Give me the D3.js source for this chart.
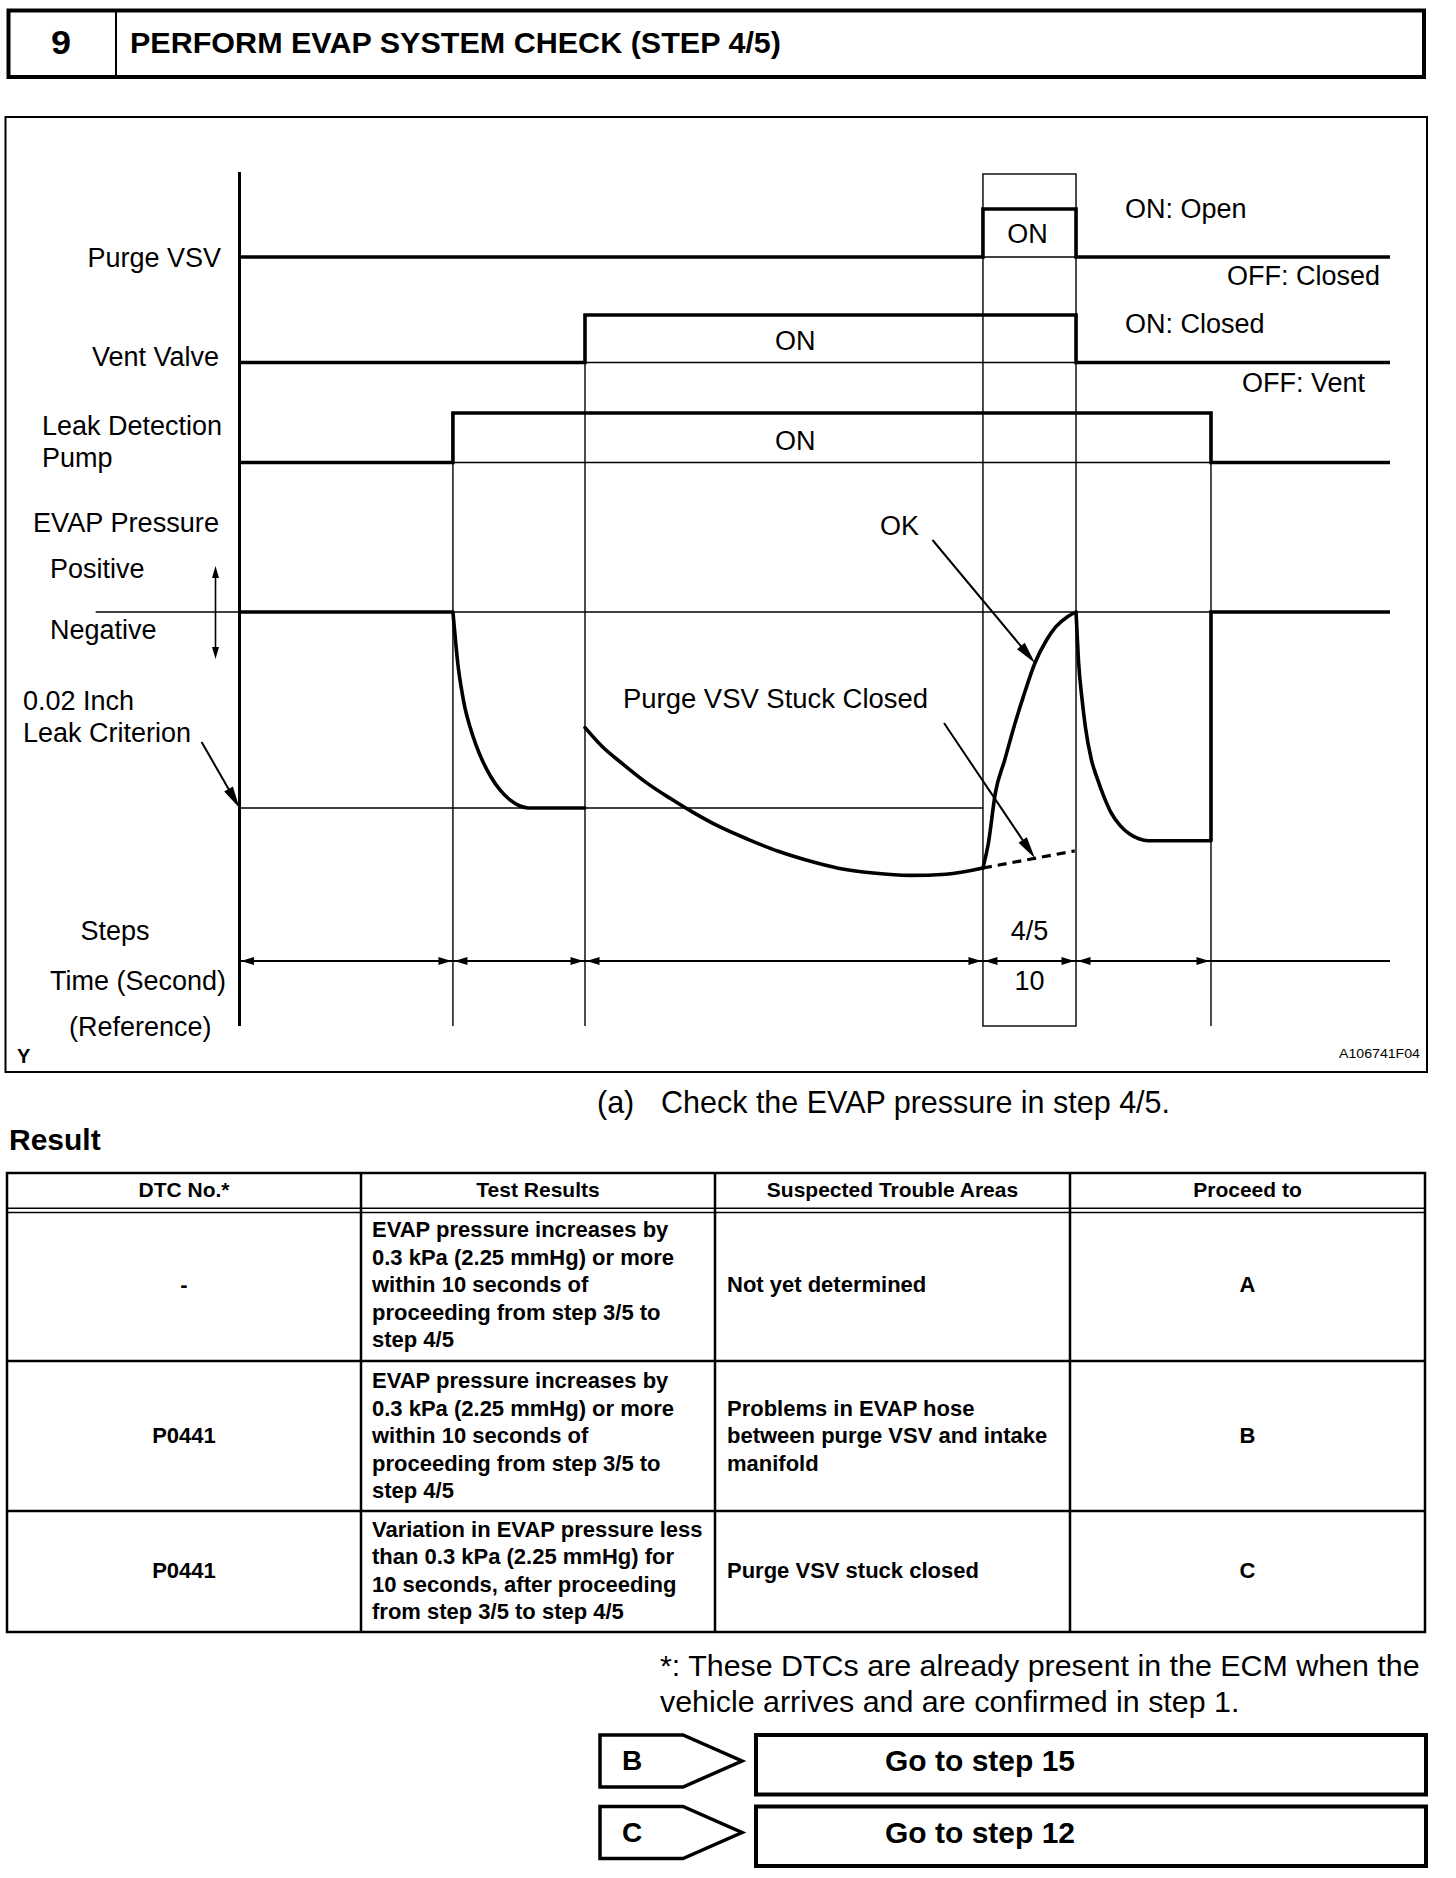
<!DOCTYPE html>
<html><head><meta charset="utf-8">
<script src="https://cdn.jsdelivr.net/npm/d3@7"></script>
<style>
body{margin:0;background:#fff}
svg{display:block}
text{font-family:"Liberation Sans",Arial,Helvetica,sans-serif;fill:#000}
</style>
</head><body>
<svg id="c" width="1456" height="1878"></svg>
<script>
// ---------------- DATA ----------------
const stepNumber = "9";
const stepTitle = "PERFORM EVAP SYSTEM CHECK (STEP 4/5)";

// time axis (arbitrary units) – segment boundaries of the test steps
const timeBoundaries = [0, 18.55, 30.03, 64.62, 72.71, 84.44, 100];
const stepLabels = ["", "", "", "4/5", "", ""];
const stepSeconds = ["", "", "", "10", "", ""];

// ON(1)/OFF(0) state per segment
const purgeVsvState  = [0, 0, 0, 1, 0, 0];
const ventValveState = [0, 0, 1, 1, 0, 0];
const leakPumpState  = [0, 1, 1, 1, 1, 0];

// EVAP pressure (0 = atmospheric reference, -1 = 0.02 inch leak criterion)
const pressureFlat = [[0, 0], [18.55, 0]];
const pressurePumpDown = [[18.55, 0], [18.77, -0.143], [18.99, -0.27], [19.25, -0.378], [19.6, -0.49],
  [20.04, -0.587], [20.56, -0.679], [21.17, -0.765], [21.86, -0.842], [22.64, -0.908], [23.51, -0.959],
  [24.38, -0.99], [25.08, -1.0], [30.03, -1.0]];
const pressureStep3 = [[30.03, -0.59], [31.5, -0.685], [33.3, -0.775], [35.3, -0.868], [37.46, -0.952],
  [39.5, -1.025], [41.63, -1.093], [44.2, -1.16], [46.83, -1.221], [49.4, -1.268], [52.04, -1.307],
  [55.1, -1.332], [58.28, -1.344], [61.4, -1.338], [64.62, -1.306]];
const pressureOk = [[64.62, -1.306], [65.09, -1.18], [65.7, -0.923], [66.51, -0.755], [67.32, -0.585],
  [68.13, -0.432], [69.14, -0.26], [70.15, -0.143], [70.96, -0.075], [71.97, -0.024], [72.71, 0]];
const pressureStuckClosed = [[64.62, -1.306], [72.6, -1.219]];
const pressureStep5 = [[72.71, 0], [72.92, -0.246], [73.24, -0.449], [73.52, -0.585], [74.05, -0.755],
  [74.53, -0.845], [75.14, -0.943], [75.74, -1.022], [76.55, -1.09], [77.37, -1.133], [78.17, -1.157],
  [78.98, -1.167], [84.44, -1.167]];
const pressureEnd = [[84.44, -1.167], [84.44, 0], [100, 0]];
const leakCriterion = [[0, -1], [64.62, -1]];
const pressureReference = [[-12.5, 0], [100, 0]];

// table
const tableHeaders = ["DTC No.*", "Test Results", "Suspected Trouble Areas", "Proceed to"];
const dtcNumbers = ["-", "P0441", "P0441"];
const testResults = [
  ["EVAP pressure increases by", "0.3 kPa (2.25 mmHg) or more", "within 10 seconds of", "proceeding from step 3/5 to", "step 4/5"],
  ["EVAP pressure increases by", "0.3 kPa (2.25 mmHg) or more", "within 10 seconds of", "proceeding from step 3/5 to", "step 4/5"],
  ["Variation in EVAP pressure less", "than 0.3 kPa (2.25 mmHg) for", "10 seconds, after proceeding", "from step 3/5 to step 4/5"]
];
const troubleAreas = [
  ["Not yet determined"],
  ["Problems in EVAP hose", "between purge VSV and intake", "manifold"],
  ["Purge VSV stuck closed"]
];
const proceedTo = ["A", "B", "C"];
const footnote = ["*: These DTCs are already present in the ECM when the", "vehicle arrives and are confirmed in step 1."];
const gotoKeys = ["B", "C"];
const gotoTargets = ["Go to step 15", "Go to step 12"];

// ---------------- DRAWING ----------------
const svg = d3.select("#c");
svg.append("rect").attr("width", 1456).attr("height", 1878).attr("fill", "#fff");

function txt(g, x, y, s, o = {}) {
  const t = g.append("text").attr("x", x).attr("y", y).text(s)
    .attr("font-size", o.size || 27)
    .attr("font-weight", o.bold ? "bold" : "normal")
    .attr("text-anchor", o.anchor || "start");
  if (o.len) t.attr("textLength", o.len).attr("lengthAdjust", "spacingAndGlyphs");
  return t;
}
function ln(g, x1, y1, x2, y2, w) {
  return g.append("line").attr("x1", x1).attr("y1", y1).attr("x2", x2).attr("y2", y2)
    .attr("stroke", "#000").attr("stroke-width", w);
}
function head(g, tx, ty, ux, uy, len, hw) {
  const bx = tx - ux * len, by = ty - uy * len;
  g.append("path").attr("d", `M${tx},${ty}L${bx - uy * hw},${by + ux * hw}L${bx + uy * hw},${by - ux * hw}Z`).attr("fill", "#000");
}
function arrow(g, x1, y1, x2, y2, len = 20, hw = 5, w = 2) {
  const dx = x2 - x1, dy = y2 - y1, L = Math.hypot(dx, dy), ux = dx / L, uy = dy / L;
  ln(g, x1, y1, x2 - ux * (len - 2), y2 - uy * (len - 2), w);
  head(g, x2, y2, ux, uy, len, hw);
}

// ---- Header ----
const hdr = svg.append("g");
hdr.append("rect").attr("x", 8.5).attr("y", 10.5).attr("width", 1415.5).attr("height", 66.5)
  .attr("fill", "none").attr("stroke", "#000").attr("stroke-width", 4);
ln(hdr, 116, 10, 116, 77, 2);
txt(hdr, 61, 54, stepNumber, {size: 33, bold: true, anchor: "middle", len: 20});
txt(hdr, 130, 53, stepTitle, {size: 30, bold: true, len: 651});

// ---- Diagram ----
const dg = svg.append("g");
dg.append("rect").attr("x", 5.5).attr("y", 117).attr("width", 1421.5).attr("height", 955)
  .attr("fill", "none").attr("stroke", "#000").attr("stroke-width", 2);

const x = d3.scaleLinear().domain([0, 100]).range([239.5, 1390]);
const yPurge = d3.scaleLinear().domain([0, 1]).range([257, 209]);
const yVent = d3.scaleLinear().domain([0, 1]).range([362.5, 315]);
const yPump = d3.scaleLinear().domain([0, 1]).range([462.5, 413]);
const yP = d3.scaleLinear().domain([0, -1]).range([612, 808]);
const bottomY = 1026, boxTop = 174, thin = 1.4, thick = 3.6;

const rows = [
  {states: purgeVsvState, y: yPurge},
  {states: ventValveState, y: yVent},
  {states: leakPumpState, y: yPump}
];

// highlighted step box (step 4/5)
const hiIdx = stepLabels.findIndex(s => s !== "");
dg.append("rect").attr("x", x(timeBoundaries[hiIdx])).attr("y", boxTop)
  .attr("width", x(timeBoundaries[hiIdx + 1]) - x(timeBoundaries[hiIdx])).attr("height", bottomY - boxTop)
  .attr("fill", "none").attr("stroke", "#000").attr("stroke-width", thin);

// vertical boundary lines
for (let i = 1; i < timeBoundaries.length - 1; i++) {
  if (i === hiIdx || i === hiIdx + 1) continue;
  let top = bottomY;
  rows.forEach(r => { if (r.states[i] !== r.states[i - 1]) top = Math.min(top, r.y(1)); });
  ln(dg, x(timeBoundaries[i]), top, x(timeBoundaries[i]), bottomY, thin);
}

// signal rows
const stepLine = d3.line().x(d => x(d[0])).y(d => d[1]).curve(d3.curveStepAfter);
rows.forEach(r => {
  ln(dg, x(0), r.y(0), x(100), r.y(0), thin);
  const pts = r.states.map((s, i) => [timeBoundaries[i], r.y(s)]);
  pts.push([100, r.y(r.states[r.states.length - 1])]);
  dg.append("path").attr("d", stepLine(pts)).attr("fill", "none").attr("stroke", "#000")
    .attr("stroke-width", thick).attr("stroke-linejoin", "miter");
});

// EVAP pressure
const pl = d3.line().x(d => x(d[0])).y(d => yP(d[1]));
const plc = d3.line().x(d => x(d[0])).y(d => yP(d[1])).curve(d3.curveMonotoneX);
dg.append("path").attr("d", pl(pressureReference)).attr("fill", "none").attr("stroke", "#000").attr("stroke-width", thin);
dg.append("path").attr("d", pl(leakCriterion)).attr("fill", "none").attr("stroke", "#000").attr("stroke-width", thin);
[pressureFlat, pressureEnd].forEach(d =>
  dg.append("path").attr("d", pl(d)).attr("fill", "none").attr("stroke", "#000").attr("stroke-width", thick));
[pressurePumpDown, pressureStep3, pressureOk, pressureStep5].forEach(d =>
  dg.append("path").attr("d", plc(d)).attr("fill", "none").attr("stroke", "#000").attr("stroke-width", thick)
    .attr("stroke-linecap", "round"));
dg.append("path").attr("d", pl(pressureStuckClosed)).attr("fill", "none").attr("stroke", "#000")
  .attr("stroke-width", 3.2).attr("stroke-dasharray", "9,6");

// main axis
ln(dg, 239.5, 172, 239.5, bottomY, 3);

// positive / negative double arrow
ln(dg, 215.5, 575, 215.5, 650, 1.6);
head(dg, 215.5, 566, 0, -1, 12, 3.5);
head(dg, 215.5, 659, 0, 1, 12, 3.5);

// step dimension row
const dimY = 961;
ln(dg, x(0), dimY, x(100), dimY, 2);
stepLabels.forEach((s, i) => {
  if (i >= timeBoundaries.length - 2) return;
  head(dg, x(timeBoundaries[i]) + 1.5, dimY, -1, 0, 13, 4);
  head(dg, x(timeBoundaries[i + 1]) - 1.5, dimY, 1, 0, 13, 4);
  const cx = (x(timeBoundaries[i]) + x(timeBoundaries[i + 1])) / 2;
  if (s) txt(dg, cx, 940, s, {anchor: "middle"});
  if (stepSeconds[i]) txt(dg, cx, 990, stepSeconds[i], {anchor: "middle"});
});

// annotation arrows (end points taken from the data)
const okPt = pressureOk[6];
arrow(dg, 932.5, 540, x(okPt[0]), yP(okPt[1]), 22, 5, 2);
const sT = 69.14, s0 = pressureStuckClosed[0], s1 = pressureStuckClosed[1];
const sP = s0[1] + (sT - s0[0]) / (s1[0] - s0[0]) * (s1[1] - s0[1]);
arrow(dg, 944, 723, x(sT), yP(sP), 22, 5, 2);
arrow(dg, 201.6, 742, x(leakCriterion[0][0]), yP(leakCriterion[0][1]), 22, 5, 2);

// left labels
txt(dg, 221, 267, "Purge VSV", {anchor: "end"});
txt(dg, 219, 366, "Vent Valve", {anchor: "end"});
txt(dg, 42, 435, "Leak Detection");
txt(dg, 42, 467, "Pump");
txt(dg, 33, 532, "EVAP Pressure", {len: 186});
txt(dg, 50, 578, "Positive");
txt(dg, 50, 639, "Negative");
txt(dg, 23, 710, "0.02 Inch");
txt(dg, 23, 742, "Leak Criterion");
txt(dg, 115, 940, "Steps", {anchor: "middle"});
txt(dg, 50, 990, "Time (Second)");
txt(dg, 69, 1036, "(Reference)");
txt(dg, 17, 1063, "Y", {size: 20, bold: true});
txt(dg, 1420, 1058, "A106741F04", {size: 12, anchor: "end", len: 81});

// right / inner labels
txt(dg, x((timeBoundaries[hiIdx] + timeBoundaries[hiIdx + 1]) / 2) - 2, 243, "ON", {anchor: "middle"});
txt(dg, 1125, 218, "ON: Open");
txt(dg, 1380, 285, "OFF: Closed", {anchor: "end"});
txt(dg, 1125, 333, "ON: Closed");
txt(dg, 1365, 392, "OFF: Vent", {anchor: "end"});
txt(dg, 775, 350, "ON");
txt(dg, 775, 450, "ON");
txt(dg, 880, 535, "OK");
txt(dg, 623, 708, "Purge VSV Stuck Closed", {len: 305});

// ---- Check text ----
txt(svg, 597, 1113, "(a)", {size: 30.5});
txt(svg, 661, 1113, "Check the EVAP pressure in step 4/5.", {size: 30.5, len: 509});
txt(svg, 9, 1150, "Result", {size: 30, bold: true});

// ---- Table ----
const tb = svg.append("g");
const colX = [7, 361, 715, 1070, 1425];
const tTop = 1173, tBot = 1632, rowLines = [1361, 1511];
const rowBase = [1292, 1443, 1578], lh = 27.5;
tb.append("rect").attr("x", colX[0]).attr("y", tTop).attr("width", colX[4] - colX[0]).attr("height", tBot - tTop)
  .attr("fill", "none").attr("stroke", "#000").attr("stroke-width", 2.5);
colX.slice(1, 4).forEach(c => ln(tb, c, tTop, c, tBot, 2.5));
ln(tb, colX[0], 1208.3, colX[4], 1208.3, 1.5);
ln(tb, colX[0], 1212.5, colX[4], 1212.5, 1.5);
rowLines.forEach(r => ln(tb, colX[0], r, colX[4], r, 2.5));
tableHeaders.forEach((h, i) => txt(tb, (colX[i] + colX[i + 1]) / 2, 1197, h, {size: 21, bold: true, anchor: "middle"}));
dtcNumbers.forEach((d, r) => {
  txt(tb, (colX[0] + colX[1]) / 2, rowBase[r], d, {size: 22, bold: true, anchor: "middle"});
  testResults[r].forEach((l, k) => txt(tb, colX[1] + 11, rowBase[r] + (k - (testResults[r].length - 1) / 2) * lh, l, {size: 22, bold: true}));
  troubleAreas[r].forEach((l, k) => txt(tb, colX[2] + 12, rowBase[r] + (k - (troubleAreas[r].length - 1) / 2) * lh, l, {size: 22, bold: true}));
  txt(tb, (colX[3] + colX[4]) / 2, rowBase[r], proceedTo[r], {size: 22, bold: true, anchor: "middle"});
});

// ---- Footnote ----
footnote.forEach((l, i) => txt(svg, 660, 1676 + i * 36, l, {size: 30.4}));

// ---- Go to boxes ----
const gg = svg.append("g");
const gotoTop = [1735, 1806.5];
gotoKeys.forEach((k, i) => {
  const t = gotoTop[i];
  gg.append("path").attr("d", `M600,${t}L683,${t}L742,${t + 26}L683,${t + 52}L600,${t + 52}Z`)
    .attr("fill", "none").attr("stroke", "#000").attr("stroke-width", 3.5).attr("stroke-linejoin", "miter");
  gg.append("rect").attr("x", 756).attr("y", t).attr("width", 670).attr("height", 59.5)
    .attr("fill", "none").attr("stroke", "#000").attr("stroke-width", 4);
  txt(gg, 622, t + 35, k, {size: 28, bold: true});
  txt(gg, 885, t + 36, gotoTargets[i], {size: 30, bold: true});
});
</script>
</body></html>
